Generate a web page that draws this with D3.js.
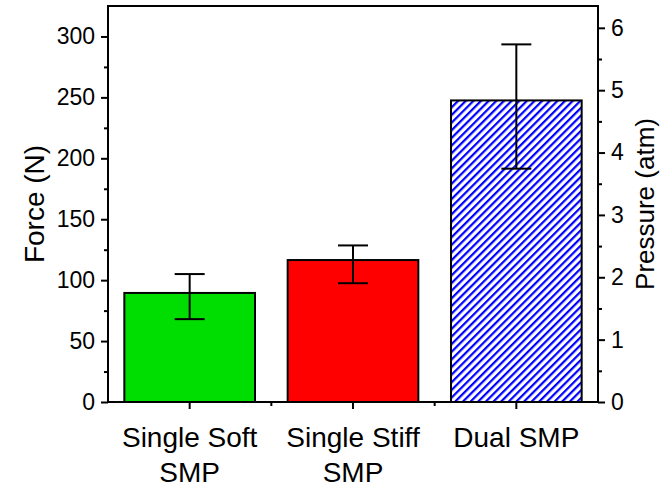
<!DOCTYPE html>
<html>
<head>
<meta charset="utf-8">
<script src="https://cdn.jsdelivr.net/npm/d3@7"></script>
<style>
  body { margin: 0; background: #fff; }
  svg text { font-family: "Liberation Sans", Arial, sans-serif; fill: #000; }
</style>
</head>
<body>
<svg id="chart" width="661" height="491"></svg>
<script>
// data
const categories = ["Single Soft SMP", "Single Stiff SMP", "Dual SMP"];
const catLines = [["Single Soft", "SMP"], ["Single Stiff", "SMP"], ["Dual SMP"]];
const force = [89.5, 116.5, 247.5];
const errLow = [68, 97.5, 191.5];
const errHigh = [105, 128.5, 293.5];
const forceTicks = [0, 50, 100, 150, 200, 250, 300];
const pressureTicks = [0, 1, 2, 3, 4, 5, 6];

const svg = d3.select("#chart");
const plotL = 108, plotR = 598, plotT = 6, plotB = 402;

const x = d3.scaleBand().domain(categories).range([plotL, plotR])
    .paddingInner(0.2).paddingOuter(0.1);
const y = d3.scaleLinear().domain([0, 325]).range([plotB, plotT]);
const y2 = d3.scaleLinear().domain([0, 6.35]).range([plotB, plotT]);

// hatch pattern for the dual bar
const defs = svg.append("defs");
defs.append("pattern")
    .attr("id", "hatch")
    .attr("patternUnits", "userSpaceOnUse")
    .attr("width", 5.4).attr("height", 10)
    .attr("patternTransform", "rotate(45)")
  .append("rect")
    .attr("x", 0).attr("y", 0).attr("width", 2.2).attr("height", 10)
    .attr("fill", "#0000ff");

const fills = ["#00dd00", "#ff0000", "url(#hatch)"];

// bars
svg.append("g").selectAll("rect")
  .data(categories)
  .join("rect")
    .attr("x", d => x(d))
    .attr("y", (d, i) => y(force[i]))
    .attr("width", x.bandwidth())
    .attr("height", (d, i) => y(0) - y(force[i]))
    .attr("fill", (d, i) => fills[i])
    .attr("stroke", "#000")
    .attr("stroke-width", 2);

// error bars
const eb = svg.append("g").attr("stroke", "#000").attr("stroke-width", 2);
categories.forEach((c, i) => {
  const cx = x(c) + x.bandwidth() / 2;
  eb.append("line").attr("x1", cx).attr("x2", cx)
    .attr("y1", y(errLow[i])).attr("y2", y(errHigh[i]));
  [errLow[i], errHigh[i]].forEach(v => {
    eb.append("line").attr("x1", cx - 15).attr("x2", cx + 15)
      .attr("y1", y(v)).attr("y2", y(v));
  });
});

// frame
svg.append("rect")
  .attr("x", plotL).attr("y", plotT)
  .attr("width", plotR - plotL).attr("height", plotB - plotT)
  .attr("fill", "none").attr("stroke", "#000").attr("stroke-width", 2);

function styleAxis(g) {
  g.select(".domain").remove();
  g.selectAll(".tick line").attr("stroke", "#000").attr("stroke-width", 2);
}
function styleText(g) {
  g.selectAll("text").attr("font-size", 23)
    .attr("font-family", "Liberation Sans, Arial, sans-serif");
}

// left axis
svg.append("g")
  .attr("transform", `translate(${plotL},0)`)
  .call(d3.axisLeft(y).tickValues(d3.range(25, 325, 50)).tickSize(4).tickFormat(""))
  .call(styleAxis);
svg.append("g")
  .attr("transform", `translate(${plotL},0)`)
  .call(d3.axisLeft(y).tickValues(forceTicks).tickSize(7).tickPadding(6))
  .call(styleAxis)
  .call(styleText);

// right axis
svg.append("g")
  .attr("transform", `translate(${plotR},0)`)
  .call(d3.axisRight(y2).tickValues(d3.range(0.5, 6.5, 1)).tickSize(4).tickFormat(""))
  .call(styleAxis);
svg.append("g")
  .attr("transform", `translate(${plotR},0)`)
  .call(d3.axisRight(y2).tickValues(pressureTicks).tickSize(7).tickPadding(6).tickFormat(d3.format("d")))
  .call(styleAxis)
  .call(styleText);

// bottom axis
const bounds = [x(categories[1]) - x.step() * x.paddingInner() / 2,
                x(categories[2]) - x.step() * x.paddingInner() / 2];
const xb = svg.append("g").attr("transform", `translate(0,${plotB})`);
xb.call(d3.axisBottom(x).tickSize(7).tickFormat("")).call(styleAxis);
xb.selectAll(".minor").data(bounds).join("line")
  .attr("x1", d => d).attr("x2", d => d).attr("y1", 0).attr("y2", 4)
  .attr("stroke", "#000").attr("stroke-width", 2);

// category labels
categories.forEach((c, i) => {
  const t = svg.append("text")
    .attr("x", x(c) + x.bandwidth() / 2)
    .attr("y", 447)
    .attr("text-anchor", "middle")
    .attr("font-size", 28);
  catLines[i].forEach((line, j) => {
    t.append("tspan").attr("x", x(c) + x.bandwidth() / 2)
      .attr("dy", j === 0 ? 0 : 35).text(line);
  });
});

// axis titles
svg.append("text")
  .attr("transform", `translate(44,${(plotT + plotB) / 2}) rotate(-90)`)
  .attr("text-anchor", "middle").attr("font-size", 28)
  .text("Force (N)");
svg.append("text")
  .attr("transform", `translate(654,${(plotT + plotB) / 2}) rotate(-90)`)
  .attr("text-anchor", "middle").attr("font-size", 26)
  .text("Pressure (atm)");
</script>
</body>
</html>
